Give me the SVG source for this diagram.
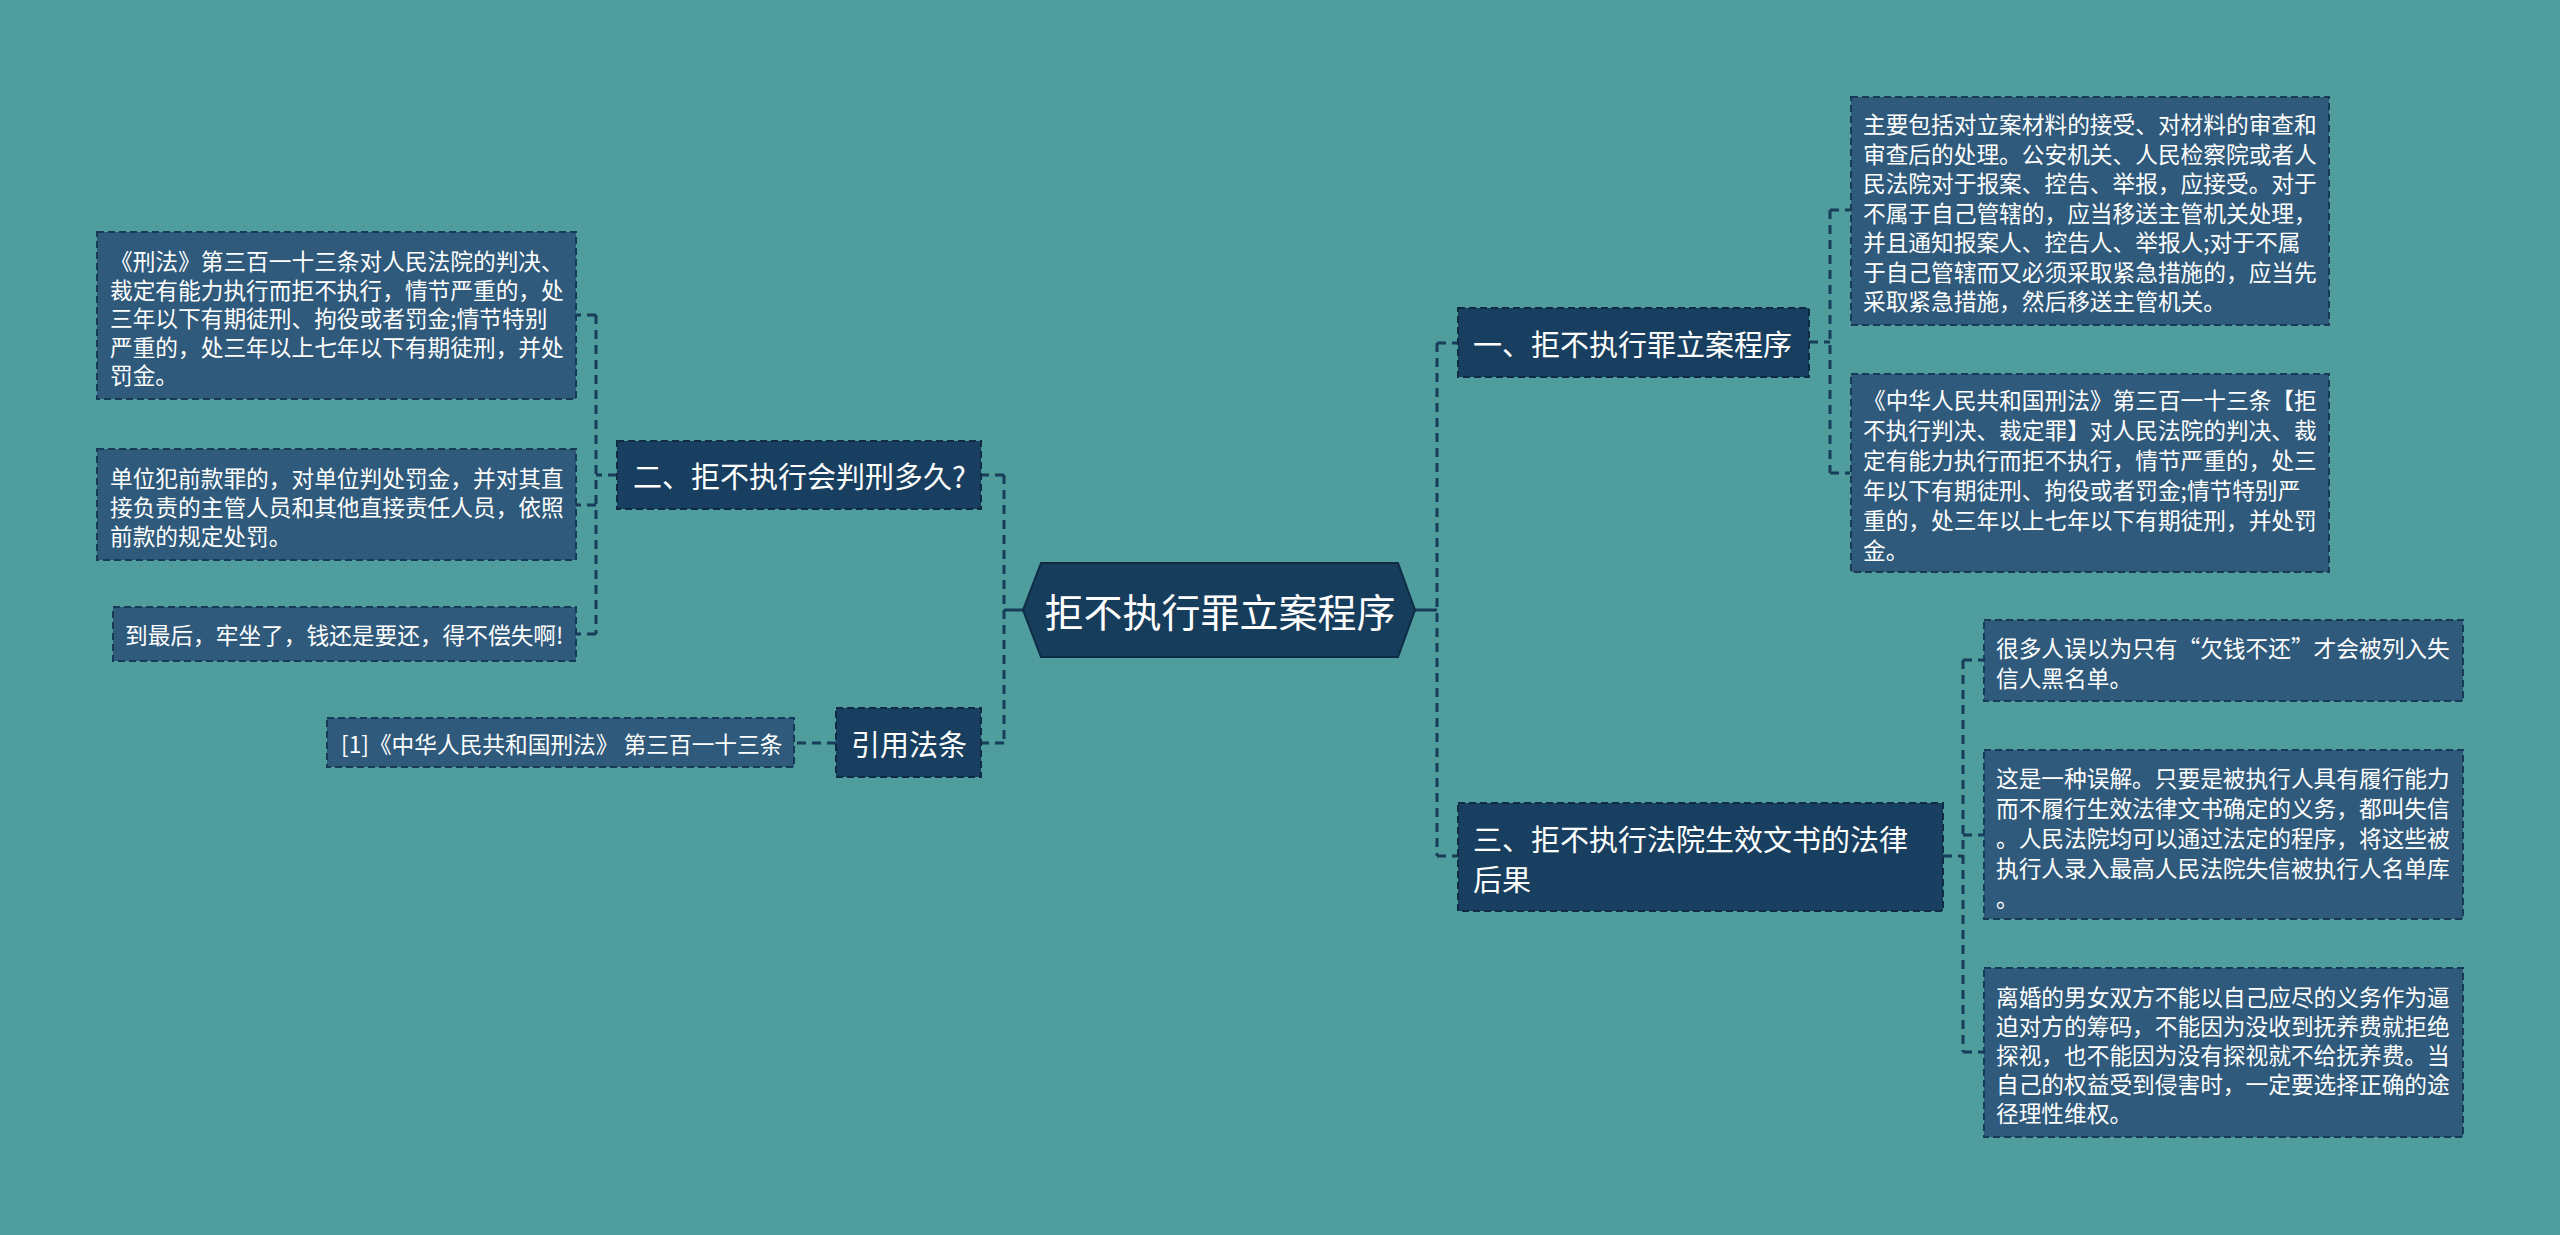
<svg xmlns="http://www.w3.org/2000/svg" width="2560" height="1235" viewBox="0 0 2560 1235">
<style>
text{font-family:"Noto Sans CJK SC","Noto Sans",sans-serif;fill:#ffffff;dominant-baseline:central}
.root{font-size:39px}
.l1{font-size:29px}
.lf{font-size:22.7px}
.l1box{fill:#183f5f;stroke:#0f2c44;stroke-width:2;stroke-dasharray:7 4}
.lfbox{fill:#2f5a7b;stroke:#173a56;stroke-width:2;stroke-dasharray:7 4}
.con{fill:none;stroke:#173d5a;stroke-width:3;stroke-dasharray:9 6}
.solid{fill:none;stroke:#173d5a;stroke-width:3}
</style>
<rect x="0" y="0" width="2560" height="1235" fill="#4f9d9d"/>
<g id="connectors">
<path class="solid" d="M1023,610 H1004 M1415,610 H1437"/>
<path class="con" d="M1004,475 V743 M1004,475 H981 M1004,743 H981"/>
<path class="con" d="M617,475 H596 M596,315 V634 M596,315 H576 M596,505 H576 M596,634 H576"/>
<path class="con" d="M836,743 H794"/>
<path class="con" d="M1437,343 V856 M1437,343 H1458 M1437,856 H1458"/>
<path class="con" d="M1809,342 H1830 M1830,210 V473 M1830,210 H1850 M1830,473 H1850"/>
<path class="con" d="M1943,856 H1963 M1963,660 V1052 M1963,660 H1984 M1963,835 H1984 M1963,1052 H1984"/>
</g>
<g id="root">
<polygon points="1023,610 1041,563 1398,563 1415,610 1398,657 1041,657" fill="#173d5c" stroke="#0f2c44" stroke-width="2"/>
<text class="root" x="1220" y="610" text-anchor="middle">拒不执行罪立案程序</text>
</g>
<g id="n1">
<rect class="l1box" x="1458" y="308" width="351" height="69"/>
<text class="l1" x="1473" y="343">一、拒不执行罪立案程序</text>
</g>
<g id="n1a">
<rect class="lfbox" x="1851" y="97" width="478" height="228"/>
<text class="lf" x="1863" y="123">主要包括对立案材料的接受、对材料的审查和<tspan x="1863" y="152.5">审查后的处理。公安机关、人民检察院或者人</tspan><tspan x="1863" y="182">民法院对于报案、控告、举报，应接受。对于</tspan><tspan x="1863" y="211.5">不属于自己管辖的，应当移送主管机关处理，</tspan><tspan x="1863" y="241">并且通知报案人、控告人、举报人;对于不属</tspan><tspan x="1863" y="270.5">于自己管辖而又必须采取紧急措施的，应当先</tspan><tspan x="1863" y="300">采取紧急措施，然后移送主管机关。</tspan></text>
</g>
<g id="n1b">
<rect class="lfbox" x="1851" y="374" width="478" height="198"/>
<text class="lf" x="1863" y="399">《中华人民共和国刑法》第三百一十三条【拒<tspan x="1863" y="429">不执行判决、裁定罪】对人民法院的判决、裁</tspan><tspan x="1863" y="459">定有能力执行而拒不执行，情节严重的，处三</tspan><tspan x="1863" y="489">年以下有期徒刑、拘役或者罚金;情节特别严</tspan><tspan x="1863" y="519">重的，处三年以上七年以下有期徒刑，并处罚</tspan><tspan x="1863" y="549">金。</tspan></text>
</g>
<g id="n3">
<rect class="l1box" x="1458" y="803" width="485" height="108"/>
<text class="l1" x="1473" y="838">三、拒不执行法院生效文书的法律<tspan x="1473" y="878">后果</tspan></text>
</g>
<g id="n3a">
<rect class="lfbox" x="1984" y="620" width="479" height="81"/>
<text class="lf" x="1996" y="647">很多人误以为只有“欠钱不还”才会被列入失<tspan x="1996" y="677">信人黑名单。</tspan></text>
</g>
<g id="n3b">
<rect class="lfbox" x="1984" y="750" width="479" height="169"/>
<text class="lf" x="1996" y="777">这是一种误解。只要是被执行人具有履行能力<tspan x="1996" y="807">而不履行生效法律文书确定的义务，都叫失信</tspan><tspan x="1996" y="837">。人民法院均可以通过法定的程序，将这些被</tspan><tspan x="1996" y="867">执行人录入最高人民法院失信被执行人名单库</tspan><tspan x="1996" y="897">。</tspan></text>
</g>
<g id="n3c">
<rect class="lfbox" x="1984" y="968" width="479" height="169"/>
<text class="lf" x="1996" y="996">离婚的男女双方不能以自己应尽的义务作为逼<tspan x="1996" y="1025">迫对方的筹码，不能因为没收到抚养费就拒绝</tspan><tspan x="1996" y="1054">探视，也不能因为没有探视就不给抚养费。当</tspan><tspan x="1996" y="1083">自己的权益受到侵害时，一定要选择正确的途</tspan><tspan x="1996" y="1112">径理性维权。</tspan></text>
</g>
<g id="n2">
<rect class="l1box" x="617" y="441" width="364" height="68"/>
<text class="l1" x="633" y="475">二、拒不执行会判刑多久?</text>
</g>
<g id="n2a">
<rect class="lfbox" x="97" y="232" width="479" height="167"/>
<text class="lf" x="110" y="260">《刑法》第三百一十三条对人民法院的判决、<tspan x="110" y="288.5">裁定有能力执行而拒不执行，情节严重的，处</tspan><tspan x="110" y="317">三年以下有期徒刑、拘役或者罚金;情节特别</tspan><tspan x="110" y="345.5">严重的，处三年以上七年以下有期徒刑，并处</tspan><tspan x="110" y="374">罚金。</tspan></text>
</g>
<g id="n2b">
<rect class="lfbox" x="97" y="449" width="479" height="111"/>
<text class="lf" x="110" y="477">单位犯前款罪的，对单位判处罚金，并对其直<tspan x="110" y="506">接负责的主管人员和其他直接责任人员，依照</tspan><tspan x="110" y="535">前款的规定处罚。</tspan></text>
</g>
<g id="n2c">
<rect class="lfbox" x="113" y="607" width="463" height="54"/>
<text class="lf" x="125" y="634">到最后，牢坐了，钱还是要还，得不偿失啊!</text>
</g>
<g id="n4">
<rect class="l1box" x="836" y="708" width="145" height="69"/>
<text class="l1" x="909" y="743" text-anchor="middle">引用法条</text>
</g>
<g id="n4a">
<rect class="lfbox" x="327" y="718" width="467" height="49"/>
<text class="lf" x="341" y="743">[1]《中华人民共和国刑法》 第三百一十三条</text>
</g>
</svg>
